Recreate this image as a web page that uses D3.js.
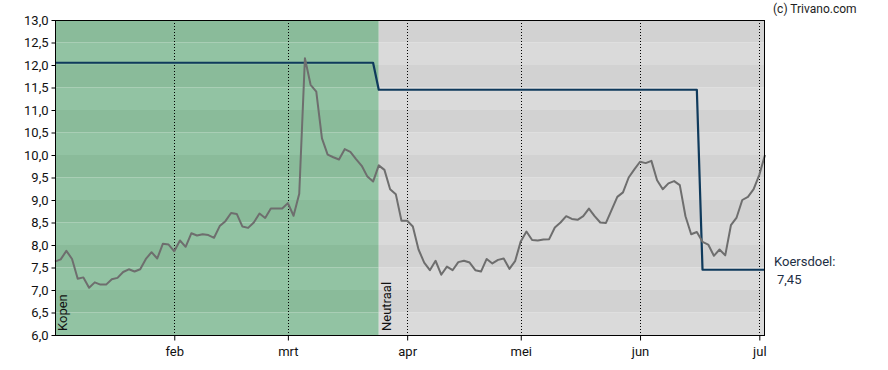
<!DOCTYPE html>
<html>
<head>
<meta charset="utf-8">
<script src="https://cdn.jsdelivr.net/npm/d3@7"></script>
<style>
  html, body { margin: 0; padding: 0; background: #ffffff; }
  svg { display: block; font-family: Roboto, "Noto Sans", sans-serif; }
</style>
</head>
<body>
<svg id="chart" width="888" height="370"></svg>
<script>
// ---- data ----
const dates = [
  "2025-01-03","2025-01-06","2025-01-07","2025-01-08","2025-01-09","2025-01-10",
  "2025-01-13","2025-01-14","2025-01-15","2025-01-16","2025-01-17",
  "2025-01-20","2025-01-21","2025-01-22","2025-01-23","2025-01-24",
  "2025-01-27","2025-01-28","2025-01-29","2025-01-30","2025-01-31",
  "2025-02-03","2025-02-04","2025-02-05","2025-02-06","2025-02-07",
  "2025-02-10","2025-02-11","2025-02-12","2025-02-13","2025-02-14",
  "2025-02-17","2025-02-18","2025-02-19","2025-02-20","2025-02-21",
  "2025-02-24","2025-02-25","2025-02-26","2025-02-27","2025-02-28",
  "2025-03-03","2025-03-04","2025-03-05","2025-03-06","2025-03-07",
  "2025-03-10","2025-03-11","2025-03-12","2025-03-13","2025-03-14",
  "2025-03-17","2025-03-18","2025-03-19","2025-03-20","2025-03-21",
  "2025-03-24","2025-03-25","2025-03-26","2025-03-27","2025-03-28","2025-03-31",
  "2025-04-01","2025-04-02","2025-04-03","2025-04-04",
  "2025-04-07","2025-04-08","2025-04-09","2025-04-10","2025-04-11",
  "2025-04-14","2025-04-15","2025-04-16","2025-04-17",
  "2025-04-22","2025-04-23","2025-04-24","2025-04-25",
  "2025-04-28","2025-04-29","2025-04-30",
  "2025-05-02","2025-05-05","2025-05-06","2025-05-07","2025-05-08","2025-05-09",
  "2025-05-12","2025-05-13","2025-05-14","2025-05-15","2025-05-16",
  "2025-05-19","2025-05-20","2025-05-21","2025-05-22","2025-05-23",
  "2025-05-26","2025-05-27","2025-05-28","2025-05-29","2025-05-30",
  "2025-06-02","2025-06-03","2025-06-04","2025-06-05","2025-06-06",
  "2025-06-09","2025-06-10","2025-06-11","2025-06-12","2025-06-13",
  "2025-06-16","2025-06-17","2025-06-18","2025-06-19","2025-06-20",
  "2025-06-23","2025-06-24","2025-06-25","2025-06-26","2025-06-27","2025-06-30",
  "2025-07-01","2025-07-02"
];

const prices = [
  7.63, 7.68, 7.87, 7.69, 7.25, 7.28, 7.05, 7.17, 7.12, 7.12,
  7.24, 7.27, 7.40, 7.46, 7.41, 7.46, 7.69, 7.84, 7.70, 8.03,
  8.01, 7.86, 8.10, 7.96, 8.26, 8.21, 8.24, 8.22, 8.16, 8.42,
  8.53, 8.71, 8.69, 8.41, 8.38, 8.50, 8.70, 8.60, 8.81, 8.81,
  8.81, 8.93, 8.65, 9.14, 12.15, 11.56, 11.41, 10.37, 10.01, 9.95,
  9.90, 10.13, 10.07, 9.91, 9.76, 9.52, 9.41, 9.77, 9.67, 9.24,
  9.13, 8.54, 8.54, 8.41, 7.90, 7.61, 7.44, 7.65, 7.34, 7.52,
  7.44, 7.62, 7.65, 7.61, 7.44, 7.41, 7.69, 7.59, 7.67, 7.70,
  7.47, 7.64, 8.08, 8.30, 8.11, 8.10, 8.12, 8.13, 8.39, 8.50,
  8.64, 8.58, 8.56, 8.64, 8.81, 8.64, 8.50, 8.49, 8.78, 9.07,
  9.17, 9.50, 9.68, 9.85, 9.82, 9.87, 9.44, 9.24, 9.37, 9.42,
  9.33, 8.64, 8.24, 8.29, 8.07, 8.01, 7.76, 7.90, 7.77, 8.44,
  8.61, 9.00, 9.07, 9.24, 9.56, 10.00
];

// price target (koersdoel) changes
const targetDates  = ["2025-01-03", "2025-03-25", "2025-06-17"];
const targetValues = [12.05, 11.45, 7.45];

// advice periods
const adviceStart  = ["2025-01-03", "2025-03-25"];
const adviceLabels = ["Kopen", "Neutraal"];
const adviceType   = ["buy", "neutral"];

// axis ticks
const monthTickDates  = ["2025-02-03","2025-03-03","2025-04-01","2025-05-02","2025-06-02","2025-07-01"];
const monthTickLabels = ["feb","mrt","apr","mei","jun","jul"];
const yTickValues = [6.0,6.5,7.0,7.5,8.0,8.5,9.0,9.5,10.0,10.5,11.0,11.5,12.0,12.5,13.0];

// ---- layout ----
const L = 55, R = 765, T = 20, B = 335;
const svg = d3.select("#chart");

const x = d3.scalePoint().domain(dates).range([L, R]);
const y = d3.scaleLinear().domain([6, 13]).range([B, T]);
const nl = d3.formatLocale({decimal: ",", thousands: ".", grouping: [3], currency: ["€", ""]});
const fmt = nl.format(".1f");
const fmt2 = nl.format(".2f");

const bandColors = {
  buy:     {light: "#92c3a3", dark: "#8abb9a"},
  neutral: {light: "#dadada", dark: "#d2d2d2"}
};

// background bands per advice region
adviceStart.forEach((d, i) => {
  const x0 = x(d);
  const x1 = i + 1 < adviceStart.length ? x(adviceStart[i + 1]) : R;
  const cols = bandColors[adviceType[i]];
  for (let k = 0; k < yTickValues.length - 1; k++) {
    const v0 = yTickValues[k], v1 = yTickValues[k + 1];
    svg.append("rect")
      .attr("x", x0).attr("width", x1 - x0)
      .attr("y", y(v1)).attr("height", y(v0) - y(v1))
      .attr("fill", k % 2 === 1 ? cols.dark : cols.light);
  }
});

// vertical dotted month gridlines
svg.append("g").selectAll("line").data(monthTickDates).join("line")
  .attr("x1", d => Math.round(x(d)) + 0.5).attr("x2", d => Math.round(x(d)) + 0.5)
  .attr("y1", T).attr("y2", B)
  .attr("stroke", "#000").attr("stroke-width", 1)
  .attr("stroke-dasharray", "1,2");

// advice labels (rotated)
adviceStart.forEach((d, i) => {
  const tx = x(d) + 12, ty = 331;
  svg.append("text")
    .attr("transform", `translate(${tx},${ty}) rotate(-90)`)
    .attr("font-size", 13).attr("fill", "#111")
    .text(adviceLabels[i]);
});

// target line
function targetAt(d) {
  let v = targetValues[0];
  targetDates.forEach((td, i) => { if (d >= td) v = targetValues[i]; });
  return v;
}
const targetLine = d3.line().x(d => x(d)).y(d => y(targetAt(d)));
svg.append("path").datum(dates)
  .attr("d", targetLine)
  .attr("fill", "none").attr("stroke", "#0f3a5c").attr("stroke-width", 2.2)
  .attr("stroke-linejoin", "round");

// price line
const priceLine = d3.line().x((d, i) => x(dates[i])).y(d => y(d));
svg.append("path").datum(prices)
  .attr("d", priceLine)
  .attr("fill", "none").attr("stroke", "#6e6e6e").attr("stroke-width", 2)
  .attr("stroke-linejoin", "round");

// frame
svg.append("rect")
  .attr("x", L + 0.5).attr("y", T + 0.5)
  .attr("width", R - L - 1).attr("height", B - T)
  .attr("fill", "none").attr("stroke", "#000").attr("stroke-width", 1);

// y axis
const yAxis = d3.axisLeft(y).tickValues(yTickValues).tickFormat(fmt).tickSize(4).tickPadding(3);
const gy = svg.append("g").attr("transform", `translate(${L + 0.5},0)`).call(yAxis);
gy.select(".domain").remove();
gy.selectAll("text").attr("font-size", 13).attr("fill", "#111").attr("font-family", "Roboto, sans-serif");

// x axis
const xAxis = d3.axisBottom(x).tickValues(monthTickDates)
  .tickFormat((d, i) => monthTickLabels[i]).tickSize(5).tickPadding(6);
const gx = svg.append("g").attr("transform", `translate(0,${B + 0.5})`).call(xAxis);
gx.select(".domain").remove();
gx.selectAll("text").attr("font-size", 13).attr("fill", "#111").attr("font-family", "Roboto, sans-serif");

// copyright
svg.append("text").attr("x", 773).attr("y", 13)
  .attr("font-size", 12).attr("fill", "#222").text("(c) Trivano.com");

// koersdoel label
const lastTarget = targetValues[targetValues.length - 1];
svg.append("text").attr("x", 774).attr("y", 266)
  .attr("font-size", 13).attr("fill", "#1d2f44").text("Koersdoel:");
svg.append("text").attr("x", 777).attr("y", 284)
  .attr("font-size", 13).attr("fill", "#1d2f44").text(fmt2(lastTarget));
</script>
</body>
</html>
